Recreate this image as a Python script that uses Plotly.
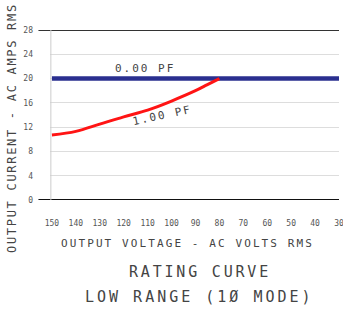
import plotly.graph_objects as go

volts_pf0 = [150, 30]
amps_pf0 = [20, 20]
volts_pf1 = [150, 140, 130, 120, 110, 100, 90, 85, 80]
amps_pf1 = [10.7, 11.3, 12.5, 13.7, 14.8, 16.3, 18.0, 19.0, 20.0]
x_ticks = [150, 140, 130, 120, 110, 100, 90, 80, 70, 60, 50, 40, 30]
y_ticks = [0, 4, 8, 12, 16, 20, 24, 28]

FONT = "DejaVu Sans Mono"
GRAY = "#444444"

def spaced(t, px):
    return f'<span style="letter-spacing:{px}px">{t}</span>'

fig = go.Figure()
fig.add_trace(go.Scatter(x=volts_pf0, y=amps_pf0, mode="lines",
                         line=dict(color="#2a2f8f", width=4.5), hoverinfo="skip"))
fig.add_trace(go.Scatter(x=volts_pf1, y=amps_pf1, mode="lines",
                         line=dict(color="#ff1414", width=3, shape="spline"), hoverinfo="skip"))

ML, MR, MT, MB = 50, 4, 30, 109
fig.update_layout(
    width=343, height=309,
    margin=dict(l=ML, r=MR, t=MT, b=MB, autoexpand=False),
    paper_bgcolor="white", plot_bgcolor="white",
    showlegend=False,
    font=dict(family=FONT, color=GRAY),
    xaxis=dict(range=[150.8, 30], tickvals=x_ticks, ticktext=[str(v) for v in x_ticks],
               showgrid=False, zeroline=False, showline=False, automargin=False,
               tickfont=dict(size=8, color="#555555", family=FONT),
               ticks="", ticklabelstandoff=17, ticklabeloverflow="allow"),
    yaxis=dict(range=[0, 28], tickvals=y_ticks, showgrid=True, gridcolor="#dddddd",
               gridwidth=1, zeroline=False, showline=False, automargin=False,
               tickfont=dict(size=8, color="#555555", family=FONT),
               ticks="", ticklabelstandoff=16),
    shapes=[
        dict(type="line", xref="paper", yref="y", x0=-0.04, x1=1.0, y0=28, y1=28,
             line=dict(color="#333333", width=2)),
        dict(type="line", xref="paper", yref="y", x0=-0.04, x1=1.0, y0=0, y1=0,
             line=dict(color="#111111", width=2)),
        dict(type="line", xref="paper", yref="paper", x0=0.003, x1=0.003, y0=0, y1=1,
             line=dict(color="#cccccc", width=1)),
    ],
    annotations=[
        dict(x=111.3, y=21.6, xref="x", yref="y", text=spaced("0.00 PF", 2), showarrow=False,
             font=dict(size=11, color=GRAY, family=FONT)),
        dict(x=104, y=14.0, xref="x", yref="y", text=spaced("1.00 PF", 2), showarrow=False,
             textangle=-12, font=dict(size=11, color=GRAY, family=FONT)),
        dict(x=187, y=309 - 243, text=spaced("OUTPUT VOLTAGE - AC VOLTS RMS", 2.1),
             showarrow=False, font=dict(size=11, color=GRAY, family=FONT)),
        dict(x=12, y=309 - 128, text=spaced("OUTPUT CURRENT - AC AMPS RMS", 1.7), showarrow=False,
             textangle=-90, font=dict(size=12, color=GRAY, family=FONT)),
        dict(x=200, y=309 - 272, text=spaced("RATING CURVE", 2.8), showarrow=False,
             font=dict(size=15, color=GRAY, family=FONT)),
        dict(x=199, y=309 - 297, text=spaced("LOW RANGE (1Ø MODE)", 3), showarrow=False,
             font=dict(size=15, color=GRAY, family=FONT)),
    ],
)

# convert pixel-positioned annotations (index 2+) to paper coordinates
pw, ph = 343 - ML - MR, 309 - MT - MB
anns = list(fig.layout.annotations)
for a in anns[2:]:
    a.xref = "paper"; a.yref = "paper"
    a.xanchor = "center"; a.yanchor = "middle"
    a.x = (a.x - ML) / pw
    a.y = (a.y - MB) / ph
fig.layout.annotations = anns

fig.write_html("out.html", config={"displayModeBar": False},
               post_script="document.body.style.margin='0';document.body.style.overflow='hidden';")
